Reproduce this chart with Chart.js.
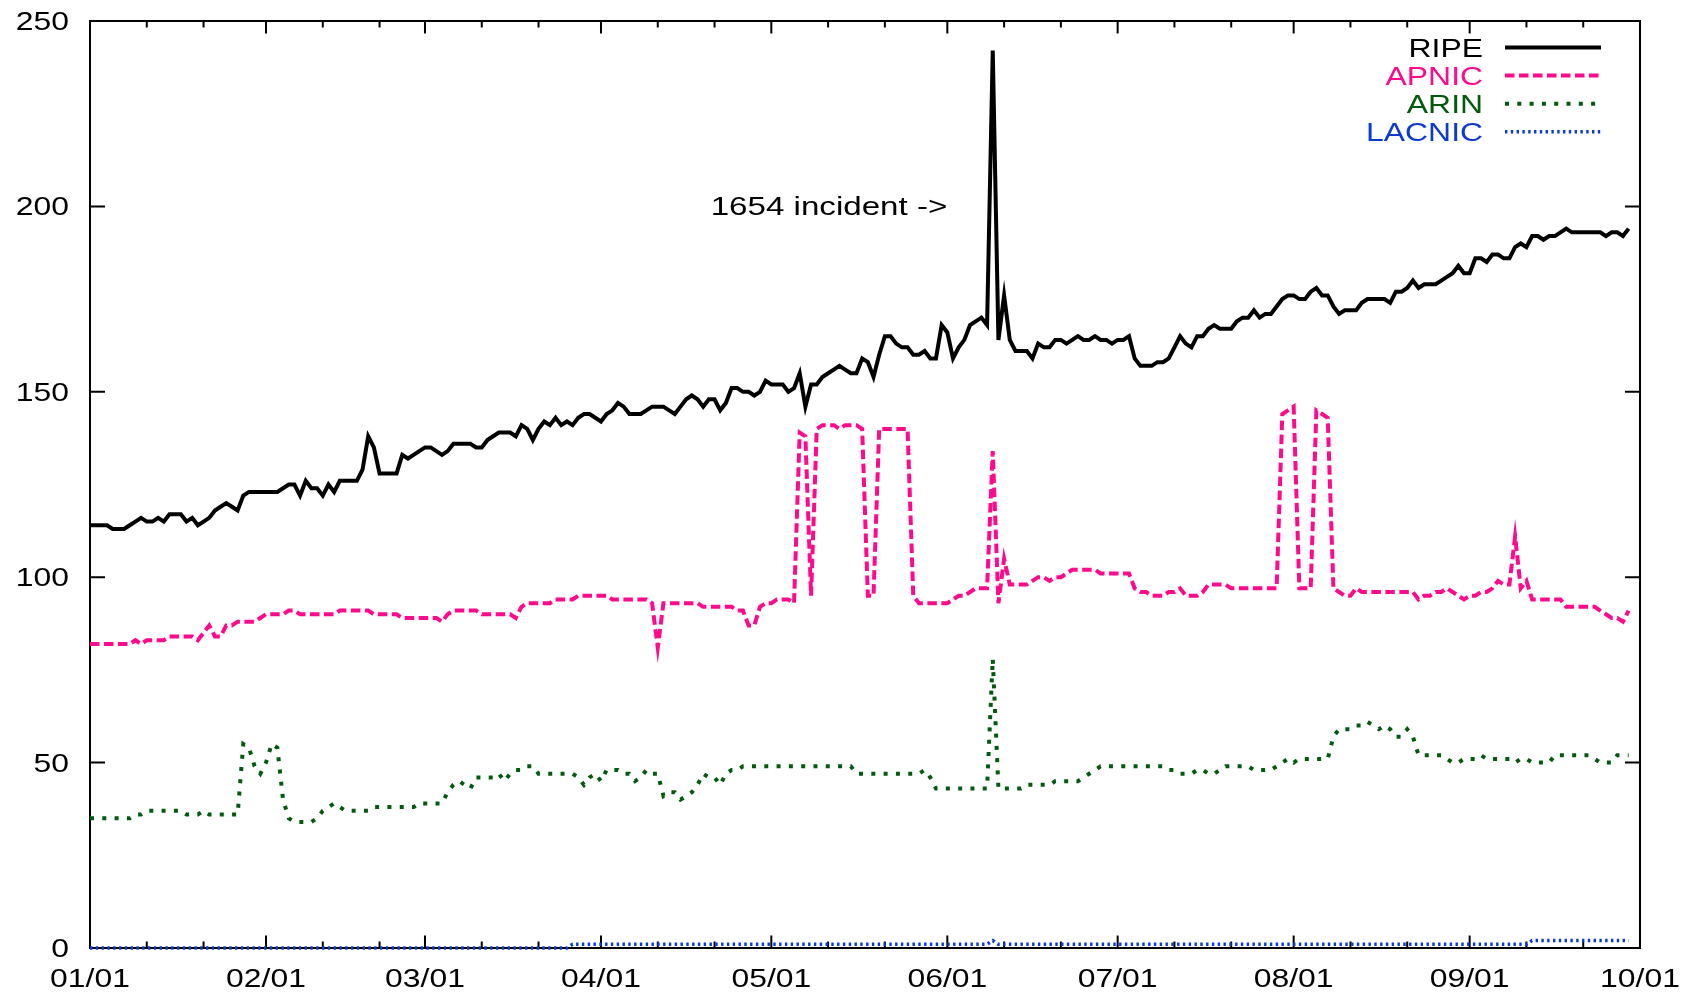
<!DOCTYPE html>
<html>
<head>
<meta charset="utf-8">
<title>Registry counts</title>
<script src="https://cdn.jsdelivr.net/npm/chart.js@4.4.0/dist/chart.umd.min.js"></script>
<style>
  html, body { margin: 0; padding: 0; background: #fff; }
  #myChart { display: block; }
</style>
</head>
<body>
<canvas id="myChart" width="1686" height="995"></canvas>
<script>
// x axis: day of year (0 = 01/01), ticks at month starts
const monthDays = [0, 31, 59, 90, 120, 151, 181, 212, 243, 273];
const monthLabels = ["01/01", "02/01", "03/01", "04/01", "05/01", "06/01", "07/01", "08/01", "09/01", "10/01"];
const minorDays = [10, 20, 41, 51, 69, 79, 100, 110, 130, 140, 161, 171, 191, 201, 222, 232, 253, 263];
const yTicks = [0, 50, 100, 150, 200, 250];

// one value per day, 01/01 .. 09/29
const ripe = [
  114,114,114,114,113,113,113,114,115,116,
  115,115,116,115,117,117,117,115,116,114,
  115,116,118,119,120,119,118,122,123,123,
  123,123,123,123,124,125,125,122,126,124,
  124,122,125,123,126,126,126,126,129,138,
  135,128,128,128,128,133,132,133,134,135,
  135,134,133,134,136,136,136,136,135,135,
  137,138,139,139,139,138,141,140,137,140,
  142,141,143,141,142,141,143,144,144,143,
  142,144,145,147,146,144,144,144,145,146,
  146,146,145,144,146,148,149,148,146,148,
  148,145,147,151,151,150,150,149,150,153,
  152,152,152,150,151,155,146,152,152,154,
  155,156,157,156,155,155,159,158,154,160,
  165,165,163,162,162,160,160,161,159,159,
  168,166,159,162,164,168,169,170,168,242,
  164,176,164,161,161,161,159,163,162,162,
  164,164,163,164,165,164,164,165,164,164,
  163,164,164,165,159,157,157,157,158,158,
  159,162,165,163,162,165,165,167,168,167,
  167,167,169,170,170,172,170,171,171,173,
  175,176,176,175,175,177,178,176,176,173,
  171,172,172,172,174,175,175,175,175,174,
  177,177,178,180,178,179,179,179,180,181,
  182,184,182,182,186,186,185,187,187,186,
  186,189,190,189,192,192,191,192,192,193,
  194,193,193,193,193,193,193,192,193,193,
  192,194
];

const apnic = [
  82,82,82,82,82,82,82,82,83,82,
  83,83,83,83,84,84,84,84,84,83,
  85,87,84,84,87,87,88,88,88,88,
  89,90,90,90,90,91,91,90,90,90,
  90,90,90,90,91,91,91,91,91,91,
  90,90,90,90,90,89,89,89,89,89,
  89,89,88,90,91,91,91,91,91,90,
  90,90,90,90,90,89,92,93,93,93,
  93,93,94,94,94,94,95,95,95,95,
  95,95,94,94,94,94,94,94,94,93,
  81,93,93,93,93,93,93,93,92,92,
  92,92,92,92,91,91,87,87,92,93,
  93,94,94,94,93,139,138,95,140,141,
  141,141,140,141,141,141,140,95,95,140,
  140,140,140,140,140,95,93,93,93,93,
  93,93,94,95,95,96,97,97,97,134,
  93,105,98,98,98,98,99,100,100,99,
  100,100,101,102,102,102,102,102,101,101,
  101,101,101,101,97,96,96,95,95,95,
  96,96,97,95,95,95,96,98,98,98,
  98,97,97,97,97,97,97,97,97,97,
  144,145,146,97,97,97,145,144,143,97,
  96,95,95,97,96,96,96,96,96,96,
  96,96,96,96,94,95,95,96,96,97,
  96,95,94,95,95,96,96,97,99,98,
  98,111,97,99,94,94,94,94,94,94,
  92,92,92,92,92,92,91,90,89,89,
  88,91
];

const arin = [
  35,35,35,35,35,35,35,35,36,36,
  37,37,37,37,37,37,37,36,36,36,
  37,36,36,36,36,36,36,55,54,49,
  47,50,55,54,40,35,34,34,34,34,
  35,37,38,39,38,37,37,37,37,37,
  38,38,38,38,38,38,38,38,39,39,
  39,39,39,42,44,45,44,43,46,46,
  46,46,47,45,47,48,48,49,49,47,
  47,47,47,47,47,47,46,44,46,47,
  45,48,48,48,47,47,45,46,48,47,
  47,41,42,42,40,41,42,44,47,46,
  46,44,47,48,48,49,49,49,49,49,
  49,49,49,49,49,49,49,49,49,49,
  49,49,49,49,49,47,47,47,47,47,
  47,47,47,47,47,47,47,48,46,43,
  43,43,43,43,43,43,43,43,43,78,
  43,43,43,43,43,44,44,44,44,44,
  45,45,45,45,45,46,47,48,49,49,
  49,49,49,49,49,49,49,49,49,49,
  48,48,47,47,47,48,48,47,47,48,
  49,49,49,49,49,48,48,48,48,49,
  50,51,50,51,51,51,51,51,51,57,
  59,59,59,60,60,61,60,59,60,59,
  57,57,59,57,52,52,52,52,52,51,
  50,50,51,51,51,52,51,51,51,51,
  51,50,51,51,50,50,50,50,52,52,
  52,52,52,52,52,51,50,50,50,52,
  52,52
];

const lacnic = [
  0,0,0,0,0,0,0,0,0,0,
  0,0,0,0,0,0,0,0,0,0,
  0,0,0,0,0,0,0,0,0,0,
  0,0,0,0,0,0,0,0,0,0,
  0,0,0,0,0,0,0,0,0,0,
  0,0,0,0,0,0,0,0,0,0,
  0,0,0,0,0,0,0,0,0,0,
  0,0,0,0,0,0,0,0,0,0,
  0,0,0,0,0,1,1,1,1,1,
  1,1,1,1,1,1,1,1,1,1,
  1,1,1,1,1,1,1,1,1,1,
  1,1,1,1,1,1,1,1,1,1,
  1,1,1,1,1,1,1,1,1,1,
  1,1,1,1,1,1,1,1,1,1,
  1,1,1,1,1,1,1,1,1,1,
  1,1,1,1,1,1,1,1,1,2,
  1,1,1,1,1,1,1,1,1,1,
  1,1,1,1,1,1,1,1,1,1,
  1,1,1,1,1,1,1,1,1,1,
  1,1,1,1,1,1,1,1,1,1,
  1,1,1,1,1,1,1,1,1,1,
  1,1,1,1,1,1,1,1,1,1,
  1,1,1,1,1,1,1,1,1,1,
  1,1,1,1,1,1,1,1,1,1,
  1,1,1,1,1,1,1,1,1,1,
  1,1,1,1,2,2,2,2,2,2,
  2,2,2,2,2,2,2,2,2,2,
  2,2
];

const days = ripe.map((v, i) => i);

const noteText = "1654 incident ->";
const noteDay = 151;
const noteValue = 200;

const labelFont = '25.5px "Liberation Sans", Arial, sans-serif';
const noteFont = '26.5px "Liberation Sans", Arial, sans-serif';
const textStretch = 1.25;

const toPoints = (vals) => vals.map((v, i) => ({ x: days[i], y: v }));

const drawText = (ctx, text, x, y, align, color, font) => {
  ctx.save();
  ctx.translate(x, y);
  ctx.scale(textStretch, 1);
  ctx.font = font || labelFont;
  ctx.textAlign = align;
  ctx.textBaseline = "alphabetic";
  ctx.fillStyle = color;
  ctx.fillText(text, 0, 0);
  ctx.restore();
};

// gnuplot style frame: box, inward ticks on all four sides, labels
const framePlugin = {
  id: "frame",
  beforeDatasetsDraw(chart) {
    const ctx = chart.ctx;
    const a = chart.chartArea;
    const xs = chart.scales.x;
    const ys = chart.scales.y;

    ctx.save();
    ctx.strokeStyle = "#000";
    ctx.lineWidth = 2;
    ctx.strokeRect(a.left, a.top, a.right - a.left, a.bottom - a.top);

    ctx.beginPath();
    monthDays.forEach((d) => {
      const px = xs.getPixelForValue(d);
      ctx.moveTo(px, a.bottom); ctx.lineTo(px, a.bottom - 12.5);
      ctx.moveTo(px, a.top); ctx.lineTo(px, a.top + 12.5);
    });
    minorDays.forEach((d) => {
      const px = xs.getPixelForValue(d);
      ctx.moveTo(px, a.bottom); ctx.lineTo(px, a.bottom - 6.5);
      ctx.moveTo(px, a.top); ctx.lineTo(px, a.top + 6.5);
    });
    yTicks.forEach((v) => {
      const py = ys.getPixelForValue(v);
      ctx.moveTo(a.left, py); ctx.lineTo(a.left + 15, py);
      ctx.moveTo(a.right, py); ctx.lineTo(a.right - 15, py);
    });
    ctx.stroke();
    ctx.restore();

    monthDays.forEach((d, i) => {
      drawText(ctx, monthLabels[i], xs.getPixelForValue(d), a.bottom + 38.5, "center", "#000");
    });
    yTicks.forEach((v) => {
      drawText(ctx, String(v), a.left - 21, ys.getPixelForValue(v) + 9, "right", "#000");
    });
  },
  afterDatasetsDraw(chart) {
    const ctx = chart.ctx;
    const xs = chart.scales.x;
    const ys = chart.scales.y;

    drawText(ctx, noteText, xs.getPixelForValue(noteDay), ys.getPixelForValue(noteValue) + 9, "right", "#000", noteFont);

    // key, top right
    chart.data.datasets.forEach((ds, i) => {
      const cy = 47.5 + i * 28.1;
      drawText(ctx, ds.label, 1483, cy + 9, "right", ds.borderColor);
      ctx.save();
      ctx.strokeStyle = ds.borderColor;
      ctx.lineWidth = ds.borderWidth;
      ctx.setLineDash(ds.borderDash || []);
      ctx.beginPath();
      ctx.moveTo(1505, cy);
      ctx.lineTo(1601, cy);
      ctx.stroke();
      ctx.restore();
    });
  }
};

const lineSet = (label, vals, color, dash, width) => ({
  label: label,
  data: toPoints(vals),
  borderColor: color,
  borderWidth: width,
  borderDash: dash,
  pointRadius: 0,
  tension: 0,
  fill: false,
  clip: 6
});

const ctx = document.getElementById("myChart").getContext("2d");
const myChart = new Chart(ctx, {
  type: "line",
  data: {
    datasets: [
      lineSet("RIPE", ripe, "#000000", [], 4),
      lineSet("APNIC", apnic, "#ff0a8c", [9.5, 4.5], 4),
      lineSet("ARIN", arin, "#035a0c", [4, 8.3], 4),
      lineSet("LACNIC", lacnic, "#0a3ad2", [2.4, 3.4], 3.5)
    ]
  },
  options: {
    responsive: false,
    devicePixelRatio: 1,
    animation: false,
    events: [],
    layout: { padding: { top: 21, right: 46, bottom: 0, left: 0 } },
    plugins: { legend: { display: false }, tooltip: { enabled: false } },
    scales: {
      x: {
        type: "linear",
        min: 0,
        max: 273,
        afterBuildTicks: (s) => { s.ticks = monthDays.map((d) => ({ value: d })); },
        afterFit: (s) => { s.height = 47; },
        grid: { display: false },
        border: { display: false },
        ticks: { display: false }
      },
      y: {
        min: 0,
        max: 250,
        afterBuildTicks: (s) => { s.ticks = yTicks.map((v) => ({ value: v })); },
        afterFit: (s) => { s.width = 90; },
        grid: { display: false },
        border: { display: false },
        ticks: { display: false }
      }
    }
  },
  plugins: [framePlugin]
});
</script>
</body>
</html>
